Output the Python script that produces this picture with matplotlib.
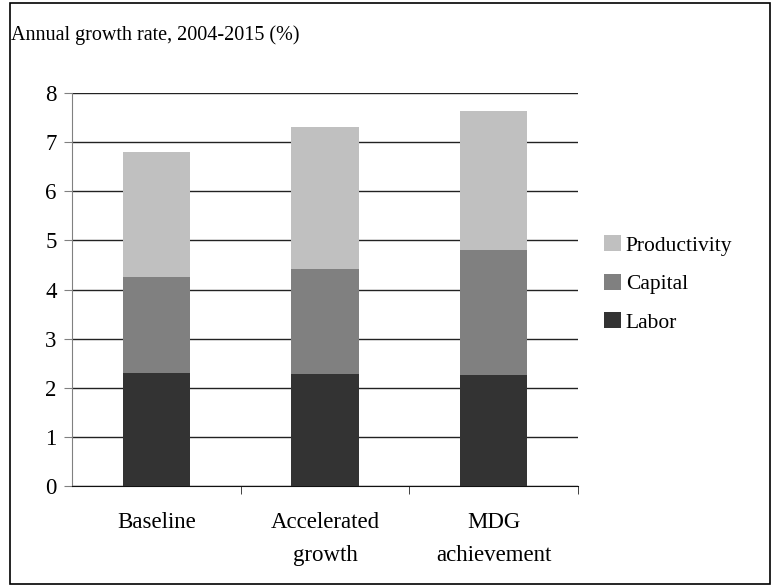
import matplotlib.pyplot as plt
from matplotlib.patches import Rectangle
import numpy as np

plt.rcParams['font.family'] = ['Liberation Serif', 'DejaVu Serif']

categories = ['Baseline', 'Accelerated\ngrowth', 'MDG\nachievement']
labor = [2.3, 2.28, 2.25]
capital = [1.95, 2.13, 2.56]
productivity = [2.55, 2.89, 2.82]
series_names = ['Labor', 'Capital', 'Productivity']
colors = ['#333333', '#808080', '#c0c0c0']

fig = plt.figure(figsize=(7.72, 5.86), dpi=100)
W, H = 772, 586
ax = fig.add_axes([72 / W, 1 - 486 / H, (578 - 72) / W, (486 - 93) / H])

x = np.arange(len(categories))
bottom = np.zeros(len(categories))
handles = []
for vals, name, c in zip([labor, capital, productivity], series_names, colors):
    b = ax.bar(x, vals, width=0.4, bottom=bottom, color=c, label=name, zorder=3)
    handles.append(b)
    bottom += np.array(vals)

ax.set_xlim(-0.5, 2.5)
ax.set_ylim(0, 8)
ax.set_yticks(range(9))
ax.yaxis.grid(True, color='#222222', linewidth=1.0, zorder=0)
ax.set_xticks(x)
ax.set_xticklabels(categories, fontsize=16.5, linespacing=1.75)
ax.tick_params(axis='x', length=0, pad=19)
ax.set_xticks([0.5, 1.5, 2.5], minor=True)
ax.tick_params(axis='x', which='minor', length=6, direction='out', color='#222222')
ax.tick_params(axis='y', labelsize=16.5, length=6, direction='out', color='#808080', pad=5)
for s in ['top', 'right']:
    ax.spines[s].set_visible(False)
ax.spines['left'].set_color('#808080')
ax.spines['bottom'].set_color('#111111')

fig.text(11 / W, 1 - 35 / H, 'Annual growth rate, 2004-2015 (%)', fontsize=14.5, va='center', ha='left')

leg = fig.legend(handles[::-1], series_names[::-1], loc='center left', bbox_to_anchor=(585 / W, 1 - 284 / H),
                 frameon=False, fontsize=15.5, handlelength=0.75, handleheight=0.75, handletextpad=0.25,
                 labelspacing=0.85)

fig.patches.append(Rectangle((10 / W, 2 / H), (770 - 10) / W, (583 - 2) / H, transform=fig.transFigure,
                             fill=False, edgecolor='black', linewidth=1.2))

fig.savefig('out.png', dpi=100)
